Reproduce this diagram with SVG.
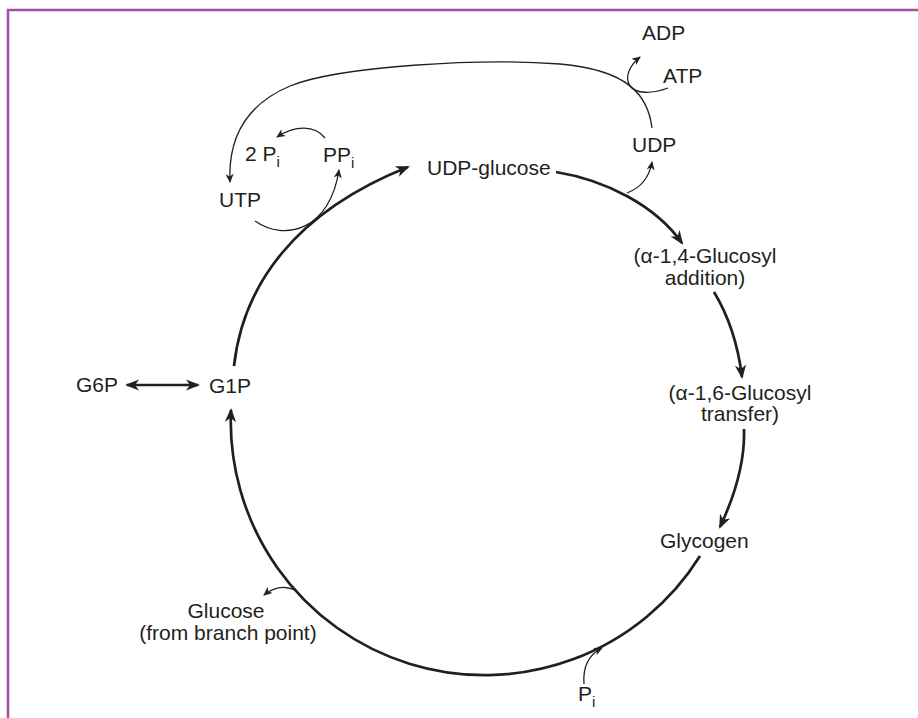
<svg xmlns="http://www.w3.org/2000/svg" width="918" height="718" viewBox="0 0 918 718">
<style>
text{font-family:"Liberation Sans",Arial,sans-serif;font-size:21px;fill:#231f20}
.sub{font-size:15px}
.thick{fill:none;stroke:#231f20;stroke-width:2.7}
.thin{fill:none;stroke:#231f20;stroke-width:1.3}
.mid{text-anchor:middle}
</style>
<defs>
<marker id="big" viewBox="-15 -7 16 14" refX="-2" refY="0" markerWidth="16" markerHeight="14" markerUnits="userSpaceOnUse" orient="auto-start-reverse">
<path d="M0,0 L-14,-5.6 L-10,0 L-14,5.6 Z" fill="#231f20"/>
</marker>
<marker id="small" viewBox="-10 -5 11 10" refX="-1" refY="0" markerWidth="11" markerHeight="10" markerUnits="userSpaceOnUse" orient="auto">
<path d="M0,0 L-9,-4 L-6.5,0 L-9,4 Z" fill="#231f20"/>
</marker>
</defs>
<rect width="918" height="718" fill="#fff"/>
<g id="frame" stroke="#a64ca6" stroke-width="2.5" fill="none">
<path d="M8,718 L8,10 L918,10"/>
</g>
<g id="connectors">
<path class="thick" marker-end="url(#big)" d="M234,366 C243,285 295,212 408,167"/>
<path class="thick" marker-end="url(#big)" d="M556,172 C605,180 655,205 682,243"/>
<path class="thick" marker-end="url(#big)" d="M714,292 C728,315 738,345 742,377"/>
<path class="thick" marker-end="url(#big)" d="M744,429 C745,460 735,495 720,527"/>
<path class="thick" marker-end="url(#big)" d="M700,556 A254,254 0 0 1 231,410"/>
<path class="thick" marker-start="url(#big)" marker-end="url(#big)" d="M127,385 L198,385"/>
<path class="thin" marker-end="url(#small)" d="M627,193 Q648,185 652,162"/>
<path class="thin" marker-end="url(#small)" d="M652,128 C648,95 628,70 560,64 C480,58 340,66 290,86 C245,105 228,140 230,182"/>
<path class="thin" marker-end="url(#small)" d="M668,88 C652,94 636,94 630,86 C624,77 630,65 640,57"/>
<path class="thin" marker-end="url(#small)" d="M325,138 C315,125 295,125 277,137"/>
<path class="thin" marker-end="url(#small)" d="M255,221 C285,242 330,230 339,170"/>
<path class="thin" marker-end="url(#small)" d="M297,591 Q280,582 264,595"/>
<path class="thin" marker-end="url(#small)" d="M584,684 Q582,658 602,648"/>
</g>
<g id="ADP"><text x="642" y="40">ADP</text></g>
<g id="ATP"><text x="663" y="83">ATP</text></g>
<g id="UDP"><text x="632" y="152">UDP</text></g>
<g id="UDP-glucose"><text x="427" y="175">UDP-glucose</text></g>
<g id="twoPi"><text x="245" y="161">2 P<tspan class="sub" dy="6">i</tspan></text></g>
<g id="PPi"><text x="323" y="162">PP<tspan class="sub" dy="6">i</tspan></text></g>
<g id="UTP"><text x="219" y="207">UTP</text></g>
<g id="G6P"><text x="76" y="392">G6P</text></g>
<g id="G1P"><text x="209" y="393">G1P</text></g>
<g id="a14"><text class="mid" x="705" y="263">(α-1,4-Glucosyl</text><text class="mid" x="705" y="285">addition)</text></g>
<g id="a16"><text class="mid" x="740" y="400">(α-1,6-Glucosyl</text><text class="mid" x="740" y="421">transfer)</text></g>
<g id="Glycogen"><text x="660" y="548">Glycogen</text></g>
<g id="Glucose"><text class="mid" x="226" y="618">Glucose</text><text class="mid" x="228" y="640">(from branch point)</text></g>
<g id="Pi"><text x="578" y="701">P<tspan class="sub" dy="6">i</tspan></text></g>
</svg>
